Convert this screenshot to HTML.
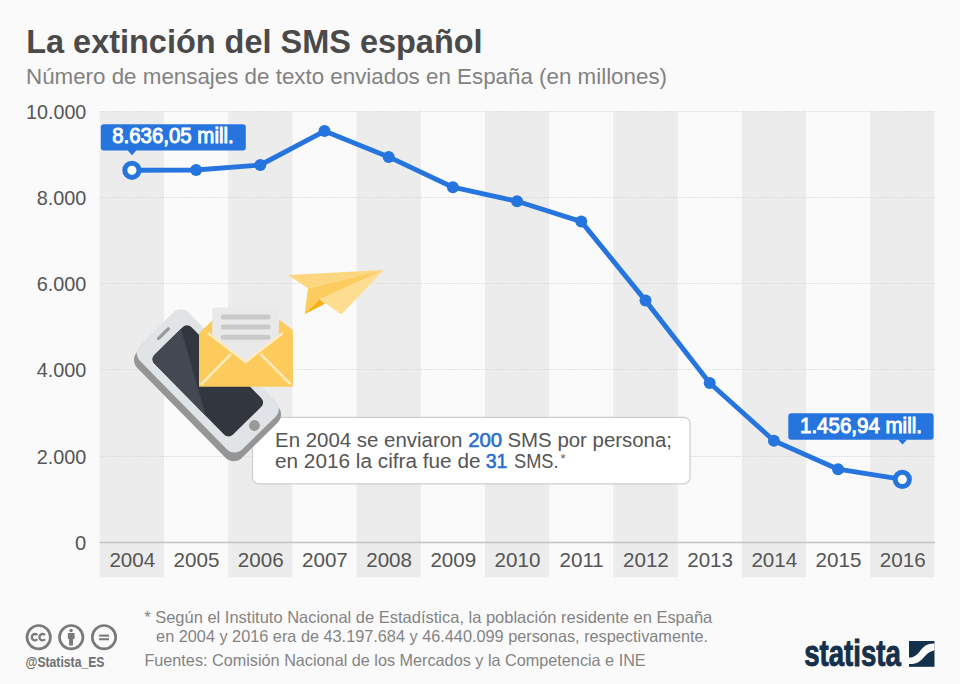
<!DOCTYPE html>
<html><head><meta charset="utf-8">
<style>
html,body{margin:0;padding:0;background:#fafafa;}
body{width:960px;height:684px;overflow:hidden;position:relative;font-family:"Liberation Sans",sans-serif;}
svg{position:absolute;left:0;top:0;}
text{font-family:"Liberation Sans",sans-serif;}
</style></head>
<body>
<svg width="960" height="684" viewBox="0 0 960 684">
<rect x="0" y="0" width="960" height="684" fill="#fafafa"/>
<!-- bands -->
<g fill="#ececec">
<rect x="99.80" y="111.5" width="64.2" height="465.8"/>
<rect x="228.20" y="111.5" width="64.2" height="465.8"/>
<rect x="356.60" y="111.5" width="64.2" height="465.8"/>
<rect x="485.00" y="111.5" width="64.2" height="465.8"/>
<rect x="613.40" y="111.5" width="64.2" height="465.8"/>
<rect x="741.80" y="111.5" width="64.2" height="465.8"/>
<rect x="870.20" y="111.5" width="64.2" height="465.8"/>
</g>
<!-- gridlines -->
<g stroke="#d9d9d9" stroke-width="1" stroke-dasharray="1.5 1.5">
<line x1="100" y1="111.5" x2="935" y2="111.5"/>
<line x1="100" y1="197.5" x2="935" y2="197.5"/>
<line x1="100" y1="283.5" x2="935" y2="283.5"/>
<line x1="100" y1="369.5" x2="935" y2="369.5"/>
<line x1="100" y1="456.5" x2="935" y2="456.5"/>
</g>
<line x1="99.5" y1="542.5" x2="935" y2="542.5" stroke="#c4c4c4" stroke-width="1.5"/>

<!-- title -->
<text x="26.2" y="52.9" font-size="32.8" font-weight="bold" fill="#4a4a4a" textLength="456.4" lengthAdjust="spacingAndGlyphs">La extinción del SMS español</text>
<text x="26" y="83.7" font-size="22.5" fill="#828282" textLength="641" lengthAdjust="spacingAndGlyphs">Número de mensajes de texto enviados en España (en millones)</text>

<!-- y labels -->
<g font-size="20.2" fill="#555" text-anchor="end" transform="translate(0.3 -0.3)">
<text x="86" y="118.9" textLength="60.2" lengthAdjust="spacingAndGlyphs">10.000</text>
<text x="86" y="205.1" textLength="49.6" lengthAdjust="spacingAndGlyphs">8.000</text>
<text x="86" y="291.4" textLength="49.6" lengthAdjust="spacingAndGlyphs">6.000</text>
<text x="86" y="377.6" textLength="49.6" lengthAdjust="spacingAndGlyphs">4.000</text>
<text x="86" y="463.9" textLength="49.6" lengthAdjust="spacingAndGlyphs">2.000</text>
<text x="86" y="550.1">0</text>
</g>
<!-- x labels -->
<g font-size="20.6" fill="#555" text-anchor="middle" transform="translate(0.4 0.3)">
<text x="131.9" y="567">2004</text>
<text x="196.1" y="567">2005</text>
<text x="260.3" y="567">2006</text>
<text x="324.5" y="567">2007</text>
<text x="388.7" y="567">2008</text>
<text x="452.9" y="567">2009</text>
<text x="517.1" y="567">2010</text>
<text x="581.3" y="567">2011</text>
<text x="645.5" y="567">2012</text>
<text x="709.7" y="567">2013</text>
<text x="773.9" y="567">2014</text>
<text x="838.1" y="567">2015</text>
<text x="902.3" y="567">2016</text>
</g>

<!-- line -->
<polyline fill="none" stroke="#2675de" stroke-width="4.9" stroke-linejoin="round" points="131.9,170.3 196.1,170 260.3,165 324.5,131.1 388.7,156.9 452.9,187.2 517.1,201.25 581.3,221.6 645.5,300.6 709.7,383 773.9,440.7 838.1,469.2 902.3,479.4"/>
<g fill="#2675de">
<circle cx="196.1" cy="170" r="6"/>
<circle cx="260.3" cy="165" r="6"/>
<circle cx="324.5" cy="131.1" r="6"/>
<circle cx="388.7" cy="156.9" r="6"/>
<circle cx="452.9" cy="187.2" r="6"/>
<circle cx="517.1" cy="201.25" r="6"/>
<circle cx="581.3" cy="221.6" r="6"/>
<circle cx="645.5" cy="300.6" r="6"/>
<circle cx="709.7" cy="383" r="6"/>
<circle cx="773.9" cy="440.7" r="6"/>
<circle cx="838.1" cy="469.2" r="6"/>
</g>
<circle cx="131.9" cy="170.3" r="7.1" fill="#fff" stroke="#2675de" stroke-width="5"/>
<circle cx="902.3" cy="479.4" r="7.1" fill="#fff" stroke="#2675de" stroke-width="5"/>

<!-- labels -->
<rect x="100.8" y="124.2" width="145" height="26.4" rx="3" fill="#2675de"/>
<polygon points="127.3,150 136.7,150 132,155.3" fill="#2675de"/>
<text x="112.2" y="143.2" font-size="21.5" fill="#fff" stroke="#fff" stroke-width="0.95" textLength="121.5" lengthAdjust="spacingAndGlyphs">8.636,05 mill.</text>

<rect x="788.3" y="413.2" width="145.3" height="26.5" rx="3" fill="#2675de"/>
<polygon points="897.8,439.5 907.2,439.5 902.5,444.6" fill="#2675de"/>
<text x="800" y="432.7" font-size="21.5" fill="#fff" stroke="#fff" stroke-width="0.95" textLength="122" lengthAdjust="spacingAndGlyphs">1.456,94 mill.</text>

<!-- callout -->
<rect x="252.5" y="417.3" width="437.5" height="66.5" rx="6" fill="#fff" stroke="#cdcdcd" stroke-width="1.2"/>
<g font-size="19.6" fill="#555" lengthAdjust="spacingAndGlyphs">
<text x="275" y="447" textLength="187.5" lengthAdjust="spacingAndGlyphs">En 2004 se enviaron</text>
<text x="468.2" y="447" textLength="34" lengthAdjust="spacingAndGlyphs" fill="#2a6fcf" stroke="#2a6fcf" stroke-width="0.55">200</text>
<text x="507.5" y="447" textLength="164.5" lengthAdjust="spacingAndGlyphs">SMS por persona;</text>
<text x="275" y="468" textLength="205.5" lengthAdjust="spacingAndGlyphs">en 2016 la cifra fue de</text>
<text x="485.7" y="468" textLength="21.7" lengthAdjust="spacingAndGlyphs" fill="#2a6fcf" stroke="#2a6fcf" stroke-width="0.55">31</text>
<text x="514" y="468" textLength="44.5" lengthAdjust="spacingAndGlyphs">SMS.</text>
<text x="560.5" y="462.7" font-size="13">*</text>
</g>

<!-- phone -->
<defs><clipPath id="scr"><rect x="-26" y="-56" width="52" height="112" rx="6"/></clipPath></defs>
<g transform="translate(0 5)"><g transform="translate(207.8 380.9) rotate(-44.5)">
  <rect x="-37.8" y="-73.6" width="73.3" height="148.8" rx="11.5" fill="#959595"/>
</g></g>
<g transform="translate(207.8 380.9) rotate(-44.5)">
  <rect x="-34.3" y="-73" width="68.6" height="146" rx="11" fill="#e1e4e7"/>
  <rect x="-26" y="-56" width="52" height="112" rx="6" fill="#32363f"/>
  <g clip-path="url(#scr)"><polygon points="-40,-70 25,-70 -30,31 -40,31" fill="#444852"/></g>
  <rect x="-7" y="-66.5" width="17" height="3.4" rx="1.7" fill="#9a9a9a"/>
  <circle cx="2" cy="64.5" r="5.4" fill="#999"/>
</g>

<!-- envelope -->
<g>
  <polygon points="199,333.3 212.2,320.6 280.3,320.6 292.8,330 292.8,386.5 199,386.5" fill="#fccb5b"/>
  <rect x="212.2" y="307.6" width="66.7" height="60" rx="2.5" fill="#e9e9e9"/>
  <g fill="#c9c9c9">
    <rect x="220.8" y="314.4" width="49.8" height="5" rx="2.5"/>
    <rect x="220.8" y="324.6" width="49.8" height="5" rx="2.5"/>
    <rect x="220.8" y="334.7" width="49.8" height="5" rx="2.5"/>
  </g>
  <polygon points="199,333.3 210,333 245.6,361.8 281.5,333 292.8,333 292.8,386.5 199,386.5" fill="#fccb5b"/>
  <polyline points="208,333 245.6,362 283,333" fill="none" stroke="#fdebc2" stroke-width="2.4"/>
  <line x1="201" y1="384.5" x2="231" y2="354" stroke="#fde9b8" stroke-width="2.6"/>
  <line x1="290.8" y1="384.5" x2="260.5" y2="354" stroke="#fde9b8" stroke-width="2.6"/>
</g>

<!-- paper plane -->
<g>
  <polygon points="384,270 288,275 308,288.3" fill="#fdd77f"/>
  <polygon points="384,270 308,288.3 304.6,314.2 320,299.2" fill="#fccd5e"/>
  <polygon points="304.6,314.2 319.8,299.2 325,303.8" fill="#f5b110"/>
  <polygon points="384,270 320,299.2 341.25,314.4" fill="#fddd90"/>
</g>

<!-- footer -->
<g font-size="16.5" fill="#848484" transform="translate(0 -0.4)">
<text x="144.2" y="623.5" textLength="568.1" lengthAdjust="spacingAndGlyphs">* Según el Instituto Nacional de Estadística, la población residente en España</text>
<text x="156.1" y="642.2" textLength="552" lengthAdjust="spacingAndGlyphs">en 2004 y 2016 era de 43.197.684 y 46.440.099 personas, respectivamente.</text>
<text x="144.4" y="666.5" textLength="501.3" lengthAdjust="spacingAndGlyphs">Fuentes: Comisión Nacional de los Mercados y la Competencia e INE</text>
</g>
<text x="25.5" y="667" font-size="14" font-weight="bold" fill="#6f6f6f" textLength="79" lengthAdjust="spacingAndGlyphs">@Statista_ES</text>
<g fill="none" stroke="#7a7a7a" stroke-width="2.7">
<circle cx="38.7" cy="637.2" r="11.7"/>
<circle cx="71.2" cy="637.2" r="11.7"/>
<circle cx="104" cy="637.2" r="11.7"/>
</g>
<g fill="#7a7a7a">
<path d="M37.37,635.06 A3.2,3.2 0 1 0 37.37,639.34 M45.0,635.06 A3.2,3.2 0 1 0 45.0,639.34" fill="none" stroke="#7a7a7a" stroke-width="2.3"/>
<circle cx="71.1" cy="630.5" r="1.7"/>
<rect x="67.8" y="633" width="6.8" height="6" rx="0.8"/>
<rect x="69.1" y="638" width="3.9" height="7.5"/>
<rect x="99.1" y="634.6" width="9.9" height="2.1"/>
<rect x="99.1" y="638.2" width="9.9" height="2.1"/>
</g>
<!-- logo -->
<text x="804.2" y="666.3" font-size="36" font-weight="bold" fill="#15304a" stroke="#15304a" stroke-width="0.9" textLength="96.6" lengthAdjust="spacingAndGlyphs">statista</text>
<g transform="translate(909 641)">
<rect x="0" y="0" width="25.5" height="25.8" fill="#15304a"/>
<clipPath id="lg"><rect x="0" y="0" width="25.5" height="25.8"/></clipPath><path clip-path="url(#lg)" d="M-4,16.6 L-1,16.6 C13,16.6 9.5,2.4 25,2.4 L30,2.4 L30,8.9 C13.5,8.9 16.5,23.1 1.5,23.1 L-4,23.1 Z" fill="#fafafa"/>
</g>
</svg>
</body></html>
